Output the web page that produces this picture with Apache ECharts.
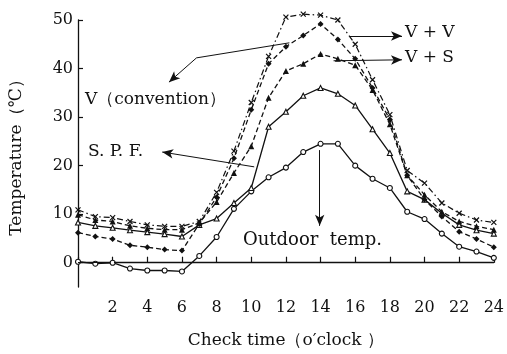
<!DOCTYPE html>
<html>
<head>
<meta charset="utf-8">
<script src="https://cdn.jsdelivr.net/npm/echarts@6/dist/echarts.min.js"></script>
<style>
  html, body { margin: 0; padding: 0; background: #fff; }
  #chart { width: 507px; height: 354px; }
</style>
</head>
<body>
<div id="chart"></div>
<script>
// check time, o'clock
const hours = [0, 1, 2, 3, 4, 5, 6, 7, 8, 9, 10, 11, 12, 13, 14, 15, 16, 17, 18, 19, 20, 21, 22, 23, 24]

// temperatures (℃)
const outdoorTemp = [0.2, -0.2, 0, -1.2, -1.6, -1.6, -1.8, 1.4, 5.3, 11.1, 14.7, 17.6, 19.6, 22.8, 24.5, 24.5, 20.0, 17.3, 15.4, 10.5, 9.0, 6.0, 3.3, 2.3, 1.0]
const spfTemp = [8.3, 7.6, 7.2, 6.7, 6.3, 5.9, 5.4, 7.8, 9.1, 12.3, 15.4, 28.0, 31.1, 34.4, 36.0, 34.8, 32.4, 27.5, 22.6, 14.7, 13.0, 10.2, 7.8, 6.7, 6.0]
const vvTemp = [10.9, 9.5, 9.3, 8.5, 7.8, 7.5, 7.5, 8.5, 14.5, 23.0, 33.0, 42.5, 50.6, 51.2, 51.0, 50.0, 45.0, 37.7, 30.5, 19.0, 16.4, 12.3, 10.2, 8.8, 8.3]
const vsTemp = [9.9, 8.8, 8.5, 7.6, 7.1, 6.8, 6.8, 8.2, 12.5, 18.5, 24.0, 34.0, 39.5, 41.0, 43.0, 42.0, 40.7, 35.6, 28.5, 18.0, 14.0, 10.5, 8.5, 7.5, 6.8]
const vConvTemp = [6.2, 5.4, 4.9, 3.6, 3.2, 2.7, 2.5, 8.0, 13.5, 21.5, 31.5, 41.0, 44.5, 46.8, 49.2, 46.0, 42.0, 36.0, 29.5, 18.0, 13.0, 9.5, 6.4, 4.9, 3.2]

const yTicks = [0, 10, 20, 30, 40, 50]

// annotation arrows [from, to] in data units (hour, ℃)
const arrowVV = [[15.7, 46.7], [18.7, 46.7]]
const arrowVS = [[14.75, 41.6], [18.7, 41.8]]
const arrowVConv = [[12.2, 45.3], [6.84, 42.2], [5.25, 37.2]]
const arrowSPF = [[10.17, 19.75], [4.86, 22.8]]
const arrowOutdoor = [[13.95, 23.2], [13.95, 7.6]]

const font = 'DejaVu Serif'
const ink = '#111'

const pair = arr => hours.map((h, i) => [h, arr[i]])

const crossSymbol = 'path://M0,0L10,10M10,0L0,10'

function seg(a, b, arrow) {
  return [
    { coord: a, symbol: 'none' },
    { coord: b, symbol: arrow ? 'arrow' : 'none' },
  ]
}

const chart = echarts.init(document.getElementById('chart'), null, { renderer: 'canvas' })

chart.setOption({
  backgroundColor: '#fff',
  animation: false,
  grid: { left: 72, right: 10, top: 20, bottom: 66 },
  xAxis: {
    type: 'value',
    min: 0,
    max: 24,
    interval: 2,
    name: 'Check time（o′clock ）',
    nameLocation: 'middle',
    nameGap: 45,
    nameTextStyle: { fontFamily: font, fontSize: 17, color: ink },
    axisLine: { lineStyle: { color: ink, width: 1.3 } },
    axisTick: { inside: true, length: 6, lineStyle: { color: ink, width: 1.2 } },
    axisLabel: {
      fontFamily: font, fontSize: 16, color: ink, margin: 13,
      formatter: v => (v === 0 ? '' : String(v)),
    },
    splitLine: { show: false },
  },
  yAxis: {
    type: 'value',
    min: -5,
    max: 50,
    name: 'Temperature（℃）',
    nameLocation: 'middle',
    nameGap: 53,
    nameRotate: 90,
    nameTextStyle: { fontFamily: font, fontSize: 17, color: ink },
    axisLine: { lineStyle: { color: ink, width: 1.3 } },
    axisTick: { inside: true, length: 5, customValues: yTicks, lineStyle: { color: ink, width: 1.2 } },
    axisLabel: { fontFamily: font, fontSize: 16, color: ink, margin: 5, customValues: yTicks },
    splitLine: { show: false },
  },
  series: [
    {
      name: 'Outdoor temp.',
      type: 'line',
      data: pair(outdoorTemp),
      symbol: 'circle',
      symbolSize: 5,
      lineStyle: { color: ink, width: 1.3 },
      itemStyle: { color: '#fff', borderColor: ink, borderWidth: 1.1 },
      markLine: {
        silent: true,
        symbol: 'none',
        label: { show: false },
        lineStyle: { color: ink, type: [7, 5], width: 1 },
        data: [{ yAxis: 0 }],
      },
      z: 3,
    },
    {
      name: 'S.P.F.',
      type: 'line',
      data: pair(spfTemp),
      symbol: 'triangle',
      symbolSize: 5,
      lineStyle: { color: ink, width: 1.3 },
      itemStyle: { color: '#fff', borderColor: ink, borderWidth: 1.1 },
      z: 3,
    },
    {
      name: 'V+V',
      type: 'line',
      data: pair(vvTemp),
      clip: false,
      symbol: crossSymbol,
      symbolSize: 5,
      lineStyle: { color: ink, width: 1.2, type: [6, 3, 1.5, 3] },
      itemStyle: { color: 'none', borderColor: ink, borderWidth: 1.2 },
    },
    {
      name: 'V+S',
      type: 'line',
      data: pair(vsTemp),
      symbol: 'triangle',
      symbolSize: 6,
      lineStyle: { color: ink, width: 1.3, type: [5, 3] },
      itemStyle: { color: ink },
    },
    {
      name: 'V (convention)',
      type: 'line',
      data: pair(vConvTemp),
      symbol: 'diamond',
      symbolSize: 6,
      lineStyle: { color: ink, width: 1.3, type: [5, 3] },
      itemStyle: { color: ink },
      markLine: {
        silent: true,
        symbolSize: [7, 11],
        label: { show: false },
        lineStyle: { color: ink, type: 'solid', width: 1 },
        data: [
          seg(arrowVV[0], arrowVV[1], true),
          seg(arrowVS[0], arrowVS[1], true),
          seg(arrowVConv[0], arrowVConv[1], false),
          seg(arrowVConv[1], arrowVConv[2], true),
          seg(arrowSPF[0], arrowSPF[1], true),
          seg(arrowOutdoor[0], arrowOutdoor[1], true),
        ],
      },
    },
  ],
  graphic: [
    { type: 'text', left: 405, top: 24, style: { text: 'V + V', font: '17px ' + font, fill: ink } },
    { type: 'text', left: 405, top: 49, style: { text: 'V + S', font: '17px ' + font, fill: ink } },
    { type: 'text', left: 85, top: 91, style: { text: 'V（convention）', font: '17px ' + font, fill: ink } },
    { type: 'text', left: 88, top: 143, style: { text: 'S. P. F.', font: '17px ' + font, fill: ink } },
    { type: 'text', left: 243, top: 231, style: { text: 'Outdoor  temp.', font: '18px ' + font, fill: ink } },
  ],
})
</script>
</body>
</html>
